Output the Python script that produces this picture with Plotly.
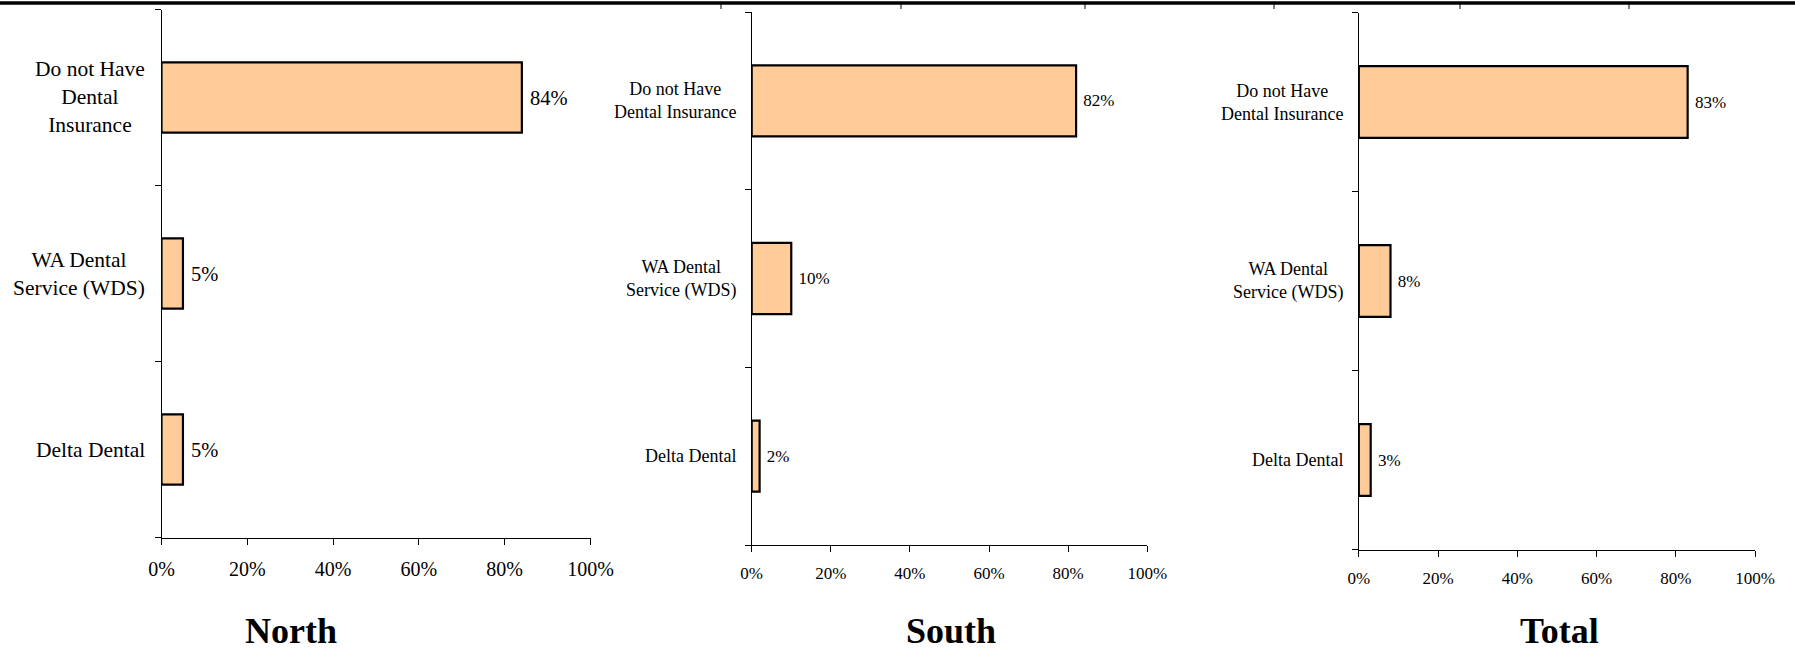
import plotly.graph_objects as go

# ---- data ----
categories = ["Delta Dental", "WA Dental Service (WDS)", "Do not Have Dental Insurance"]
north_values = [0.05, 0.05, 0.84]
south_values = [0.02, 0.10, 0.82]
total_values = [0.03, 0.08, 0.83]
panel_titles = ["North", "South", "Total"]
north_labels = ["Delta Dental", "WA Dental<br>Service (WDS)", "Do not Have<br>Dental<br>Insurance"]
wide_labels = ["Delta Dental", "WA Dental<br>Service (WDS)", "Do not Have<br>Dental Insurance"]
tick_vals = [0, 0.2, 0.4, 0.6, 0.8, 1.0]
tick_text = ["0%", "20%", "40%", "60%", "80%", "100%"]

W, H = 1795, 650
FONT = "Liberation Serif"
FILL = "#FFCC99"

def px_x(p):
    return p / W

def px_y(p):
    return 1 - p / H

panels = [
    # values, labels, x0px, x1px, ytop, ybot, cat font, tick font, label font, label right px, title x px
    (north_values, north_labels, 161.5, 590.5, 9.5, 537.5, 21.5, 20, 20.5, 147, 291),
    (south_values, wide_labels, 751.7, 1147.3, 12, 545, 18, 17, 17, 738, 951),
    (total_values, wide_labels, 1358.8, 1755, 12.5, 549.5, 18, 17, 17, 1345, 1559),
]

fig = go.Figure()
annotations = []
layout = {}
for i, (vals, labs, x0, x1, yt, yb, cf, tf, lf, lr, tx) in enumerate(panels):
    n = "" if i == 0 else str(i + 1)
    fig.add_trace(go.Bar(
        x=vals, y=categories, orientation="h",
        xaxis="x" + n, yaxis="y" + n,
        marker=dict(color=FILL, line=dict(color="black", width=2.2)),
        width=0.4,
        text=[f" {round(v*100)}%" for v in vals],
        textposition="outside", cliponaxis=False,
        textfont=dict(family=FONT, size=lf, color="black"),
        showlegend=False, hoverinfo="skip",
    ))
    layout["xaxis" + n] = dict(
        domain=[px_x(x0), px_x(x1)], anchor="y" + n, range=[0, 1],
        tickvals=tick_vals, ticktext=tick_text,
        ticks="outside", ticklen=6, tickcolor="black", tickwidth=1,
        ticklabelstandoff=7,
        showline=True, linecolor="black", linewidth=1,
        showgrid=False, zeroline=False, automargin=False,
        tickfont=dict(family=FONT, size=tf, color="black"),
        fixedrange=True,
    )
    layout["yaxis" + n] = dict(
        domain=[px_y(yb), px_y(yt)], anchor="x" + n,
        type="category", categoryorder="array", categoryarray=categories,
        range=[-0.5, 2.5],
        showticklabels=False, ticks="outside", tickson="boundaries",
        ticklen=6, tickcolor="black", tickwidth=1,
        showline=True, linecolor="black", linewidth=1,
        showgrid=False, zeroline=False, fixedrange=True, automargin=False,
    )
    for j, lab in enumerate(labs):
        annotations.append(dict(
            x=px_x(lr), xref="paper", y=j, yref="y" + n,
            text=lab, showarrow=False, xanchor="right", yanchor="middle",
            align="center", font=dict(family=FONT, size=cf, color="black"),
        ))
    annotations.append(dict(
        x=px_x(tx), xref="paper", y=px_y(631), yref="paper",
        text="<b>" + panel_titles[i] + "</b>", showarrow=False,
        xanchor="center", yanchor="middle",
        font=dict(family=FONT, size=36, color="black"),
    ))

# top border remnants
shapes = [dict(type="line", xref="paper", yref="paper", x0=0, x1=1,
               y0=px_y(3), y1=px_y(3), line=dict(color="black", width=3.5))]
for tx_ in [721, 901, 1085, 1274, 1460, 1629]:
    shapes.append(dict(type="line", xref="paper", yref="paper",
                       x0=px_x(tx_), x1=px_x(tx_), y0=px_y(3), y1=px_y(9),
                       line=dict(color="black", width=1)))

fig.update_layout(
    template="none",
    width=W, height=H, margin=dict(l=0, r=0, t=0, b=0, pad=0),
    paper_bgcolor="white", plot_bgcolor="white",
    font=dict(family=FONT, color="black"),
    annotations=annotations, shapes=shapes, bargap=0.6,
    **layout,
)

fig.write_html("out.html", config={"displayModeBar": False},
               post_script="document.body.style.margin='0';")
